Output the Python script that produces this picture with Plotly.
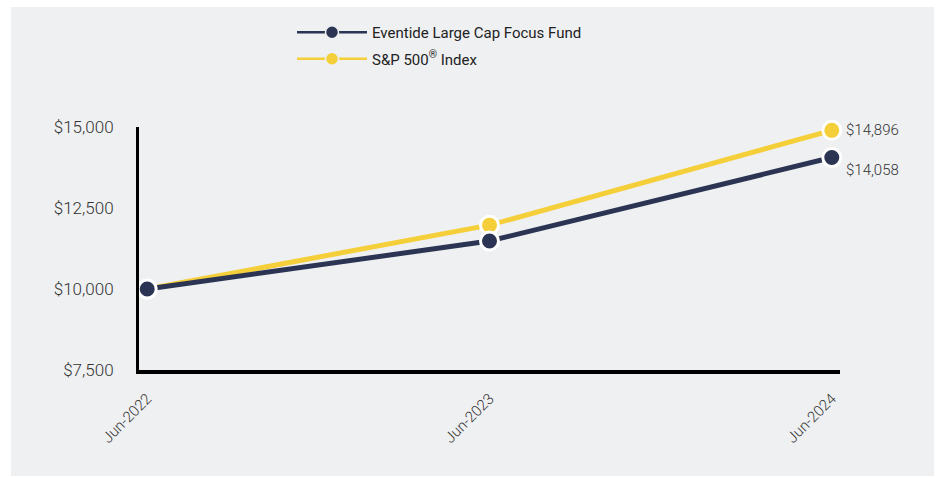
import plotly.graph_objects as go

categories = ["Jun-2022", "Jun-2023", "Jun-2024"]
fund_name = "Eventide Large Cap Focus Fund"
index_name = "S&P 500<sup>®</sup> Index"
fund_values = [10000, 11480, 14058]
index_values = [10000, 11970, 14896]
y_ticks = [7500, 10000, 12500, 15000]
y_tick_labels = ["$7,500", "$10,000", "$12,500", "$15,000"]

FUND_COLOR = "#2b3553"
INDEX_COLOR = "#f5cf3a"
TEXT_COLOR = "#333333"
FONT = "Roboto"

xs = list(range(len(categories)))

fig = go.Figure()
fig.add_trace(go.Scatter(
    x=xs, y=index_values, name=index_name, mode="lines+markers",
    line=dict(color=INDEX_COLOR, width=5),
    marker=dict(size=18, color=INDEX_COLOR, line=dict(color="white", width=3)),
    cliponaxis=False, showlegend=False,
))
fig.add_trace(go.Scatter(
    x=xs, y=fund_values, name=fund_name, mode="lines+markers",
    line=dict(color=FUND_COLOR, width=5),
    marker=dict(size=18, color=FUND_COLOR, line=dict(color="white", width=3)),
    cliponaxis=False, showlegend=False,
))

# legend-only entries (thin line with marker, like the reference)
fig.add_trace(go.Scatter(
    x=[None], y=[None], name=fund_name, mode="lines+markers",
    line=dict(color=FUND_COLOR, width=2.5),
    marker=dict(size=13, color=FUND_COLOR, line=dict(color="#eff0f2", width=1.5)),
    legendgroup="a", legendrank=1,
))
fig.add_trace(go.Scatter(
    x=[None], y=[None], name=index_name, mode="lines+markers",
    line=dict(color=INDEX_COLOR, width=2.5),
    marker=dict(size=13, color=INDEX_COLOR, line=dict(color="#eff0f2", width=1.5)),
    legendgroup="b", legendrank=2,
))

# end labels
fig.add_annotation(x=xs[-1], y=index_values[-1], text=f"${index_values[-1]:,}",
                   showarrow=False, xanchor="left", yanchor="middle", xshift=12, yshift=0,
                   font=dict(family=FONT, size=15, color=TEXT_COLOR, weight=300))
fig.add_annotation(x=xs[-1], y=fund_values[-1], text=f"${fund_values[-1]:,}",
                   showarrow=False, xanchor="left", yanchor="middle", xshift=12, yshift=-12,
                   font=dict(family=FONT, size=15, color=TEXT_COLOR, weight=300))

L, R, T, B = 139, 96, 127, 108
W, H = 936, 478
pw = W - L - R
ph = H - T - B

def px_x(p):
    return (p - L) / pw

def px_y(p):
    return (H - B - p) / ph

fig.add_shape(type="rect", xref="paper", yref="paper",
              x0=px_x(11), x1=px_x(934), y0=px_y(476), y1=px_y(7),
              fillcolor="#eff0f2", line=dict(width=0), layer="below")

fig.update_layout(
    width=W, height=H,
    margin=dict(l=L, r=R, t=T, b=B, pad=0),
    paper_bgcolor="white", plot_bgcolor="rgba(0,0,0,0)",
    font=dict(family=FONT, size=15, color=TEXT_COLOR),
    showlegend=True,
    legend=dict(x=px_x(292), y=px_y(16), xanchor="left", yanchor="top",
                bgcolor="rgba(0,0,0,0)", font=dict(family=FONT, size=15, color="#222222"),
                itemwidth=70, traceorder="grouped", tracegroupgap=4),
    xaxis=dict(range=[-0.024, 2.024], tickmode="array", tickvals=xs, ticktext=categories,
               tickangle=-45, showgrid=False, zeroline=False, showline=True,
               linecolor="black", linewidth=4, ticks="", ticklabelstandoff=10,
               tickfont=dict(family=FONT, size=15, color=TEXT_COLOR, weight=300), fixedrange=True),
    yaxis=dict(range=[7500, 15000], tickmode="array", tickvals=y_ticks, ticktext=y_tick_labels,
               showgrid=False, zeroline=False, showline=True, linecolor="black", linewidth=3,
               ticks="", ticklabelstandoff=19,
               tickfont=dict(family=FONT, size=17, color=TEXT_COLOR, weight=300), fixedrange=True),
)

fig.write_html("out.html")
